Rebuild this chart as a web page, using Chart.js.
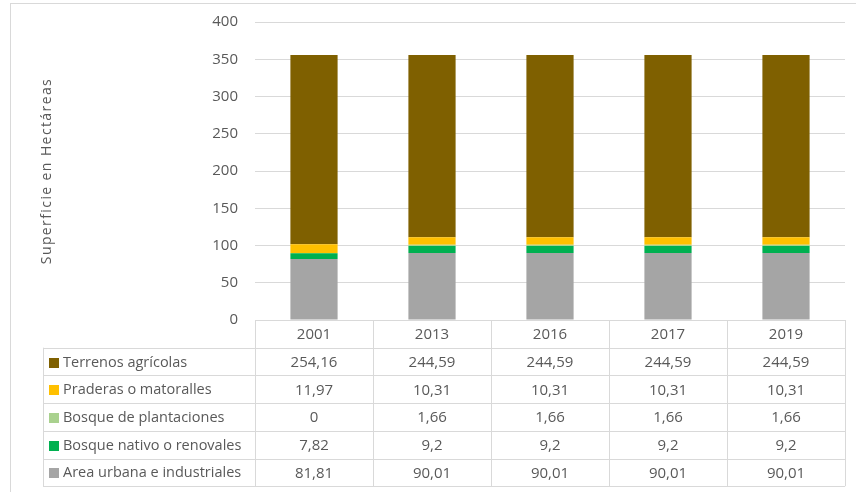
<!DOCTYPE html>
<html>
<head>
<meta charset="utf-8">
<script src="https://cdn.jsdelivr.net/npm/chart.js@4.4.1/dist/chart.umd.min.js"></script>
<style>
  html, body { margin: 0; padding: 0; background: #ffffff; }
  body { width: 856px; height: 492px; position: relative; overflow: hidden; }
  #frame { position: absolute; left: 10px; top: 3px; width: 860px; height: 500px;
           border-left: 1px solid #d9d9d9; border-top: 1px solid #d9d9d9; }
  #wrap { position: absolute; left: 0; top: 0; width: 856px; height: 492px; }
</style>
</head>
<body>
<div id="frame"></div>
<div id="wrap"><canvas id="c" width="856" height="492"></canvas></div>
<script>
const years = ['2001', '2013', '2016', '2017', '2019'];
const areaUrbana = [81.81, 90.01, 90.01, 90.01, 90.01];
const bosqueNativo = [7.82, 9.2, 9.2, 9.2, 9.2];
const bosquePlantaciones = [0, 1.66, 1.66, 1.66, 1.66];
const praderas = [11.97, 10.31, 10.31, 10.31, 10.31];
const terrenos = [254.16, 244.59, 244.59, 244.59, 244.59];
const yTicks = [0, 50, 100, 150, 200, 250, 300, 350, 400];
const yTitle = 'Superficie en Hectáreas';

const seriesNames = ['Area urbana e industriales', 'Bosque nativo o renovales', 'Bosque de plantaciones', 'Praderas o matoralles', 'Terrenos agrícolas'];
const seriesData = [areaUrbana, bosqueNativo, bosquePlantaciones, praderas, terrenos];
const seriesColors = ['#a5a5a5', '#00b050', '#a9d18e', '#ffc000', '#7f6000'];

const FONT = "'Open Sans', 'Noto Sans', sans-serif";
const TXT = '#595959';
const LINE = '#d9d9d9';

function fmt(v) { return String(v).replace('.', ','); }

const tablePlugin = {
  id: 'dataTable',
  afterDraw(chart) {
    const ctx = chart.ctx;
    const x = chart.scales.x;
    const area = chart.chartArea;
    const n = years.length;
    const colW = (area.right - area.left) / n;
    const top = area.bottom;
    const rowH = 27.7;
    const labelLeft = 43;
    const rows = seriesNames.length;
    ctx.save();
    ctx.save();
    ctx.translate(47, (area.top + area.bottom) / 2);
    ctx.rotate(-Math.PI / 2);
    ctx.fillStyle = TXT;
    ctx.font = '14px ' + FONT;
    if ('letterSpacing' in ctx) ctx.letterSpacing = '1.4px';
    ctx.textAlign = 'center';
    ctx.textBaseline = 'middle';
    ctx.fillText(yTitle, 0, 0);
    ctx.restore();

    ctx.strokeStyle = LINE;
    ctx.lineWidth = 1;
    ctx.beginPath();
    for (let r = 0; r <= rows + 1; r++) {
      const y = Math.round(top + r * rowH) + 0.5;
      const x0 = r === 0 ? area.left : labelLeft;
      ctx.moveTo(x0, y); ctx.lineTo(area.right, y);
    }
    for (let c = 0; c <= n; c++) {
      const xx = Math.round(area.left + c * colW) + 0.5;
      ctx.moveTo(xx, top); ctx.lineTo(xx, top + (rows + 1) * rowH);
    }
    ctx.moveTo(labelLeft + 0.5, top + rowH); ctx.lineTo(labelLeft + 0.5, top + (rows + 1) * rowH);
    ctx.stroke();

    ctx.fillStyle = TXT;
    ctx.font = '15px ' + FONT;
    ctx.textAlign = 'center';
    ctx.textBaseline = 'middle';
    for (let c = 0; c < n; c++) {
      ctx.fillText(years[c], x.getPixelForValue(c), top + rowH / 2 + 1);
    }
    for (let r = 0; r < rows; r++) {
      const si = rows - 1 - r;
      const yc = top + (r + 1) * rowH + rowH / 2 + 1;
      ctx.fillStyle = seriesColors[si];
      ctx.fillRect(labelLeft + 6, Math.round(yc - 5), 10, 10);
      ctx.fillStyle = TXT;
      ctx.textAlign = 'left';
      ctx.font = '14.5px ' + FONT;
      ctx.fillText(seriesNames[si], labelLeft + 20, yc);
      ctx.textAlign = 'center';
      ctx.font = '15px ' + FONT;
      for (let c = 0; c < n; c++) {
        ctx.fillText(fmt(seriesData[si][c]), x.getPixelForValue(c), yc);
      }
    }
    ctx.restore();
  }
};

new Chart(document.getElementById('c'), {
  type: 'bar',
  data: {
    labels: years,
    datasets: seriesNames.map((name, i) => ({
      label: name,
      data: seriesData[i],
      backgroundColor: seriesColors[i],
      borderWidth: 0,
      categoryPercentage: 0.8,
      barPercentage: 0.5
    }))
  },
  options: {
    responsive: false,
    animation: false,
    devicePixelRatio: 1,
    layout: { padding: { left: 10, top: 22, right: 11, bottom: 172 } },
    plugins: { legend: { display: false }, tooltip: { enabled: false }, title: { display: false } },
    scales: {
      x: { stacked: true, display: false, offset: true },
      y: {
        stacked: true,
        min: 0, max: 400,
        afterBuildTicks(s) { s.ticks = yTicks.map(v => ({ value: v })); },
        afterFit(s) { s.width = 245; s.paddingTop = 0; s.paddingBottom = 0; },
        grid: { color: LINE, drawTicks: false },
        border: { display: false },
        ticks: { color: TXT, font: { family: FONT, size: 15 }, padding: 17 },
        title: { display: false }
      }
    }
  },
  plugins: [tablePlugin]
});
</script>
</body>
</html>
